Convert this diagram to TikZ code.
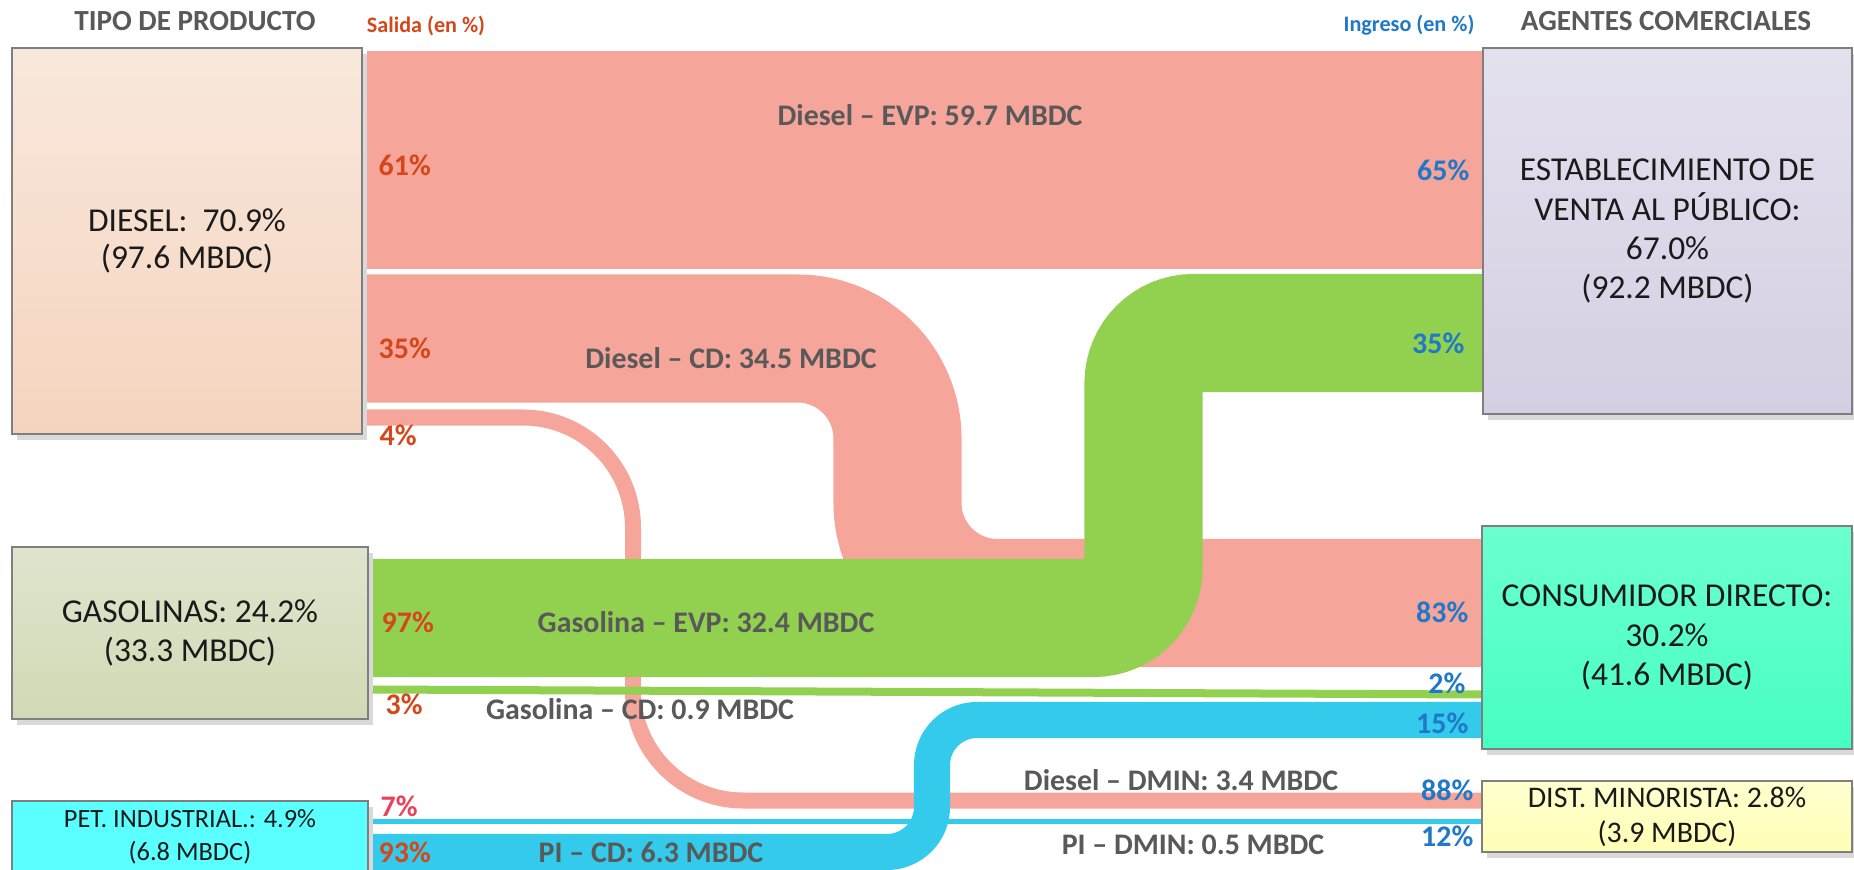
\documentclass[tikz,border=0pt]{standalone}
\usepackage{fontspec}
\setmainfont{Carlito}
\usetikzlibrary{shadows}
\definecolor{pinkflow}{HTML}{F6A59B}
\definecolor{greenflow}{HTML}{92D050}
\definecolor{blueflow}{HTML}{33CAEC}
\definecolor{outred}{HTML}{D5471A}
\definecolor{outredb}{HTML}{E8435A}
\definecolor{inblue}{HTML}{1F78C8}
\definecolor{lblgray}{HTML}{595959}
\definecolor{boxborder}{HTML}{7F7F7F}
\definecolor{boxtext}{HTML}{1A1A1A}
\begin{document}
\begin{tikzpicture}[x=0.01cm,y=-0.01cm,
  box/.style={draw=boxborder, line width=0.6pt, inner sep=0pt, align=center, text=boxtext,
     drop shadow={shadow xshift=0.05cm, shadow yshift=-0.06cm, opacity=0.15, fill=black}},
  pctout/.style={font=\fontsize{8.5}{10}\selectfont\bfseries, text=outred, anchor=west, inner sep=0pt},
  pctin/.style={font=\fontsize{8.5}{10}\selectfont\bfseries, text=inblue, anchor=east, inner sep=0pt},
  flowlbl/.style={font=\fontsize{8.5}{10}\selectfont\bfseries, text=lblgray, inner sep=0pt},
  hdr/.style={font=\fontsize{8.3}{10}\selectfont\bfseries, text=lblgray, inner sep=0pt},
  subhdr/.style={font=\fontsize{6.3}{8}\selectfont\bfseries, inner sep=0pt},
  pinkf/.style={draw=pinkflow},
  greenf/.style={draw=greenflow},
  bluef/.style={draw=blueflow}]
\useasboundingbox (0,0) rectangle (1854,870);
\clip (0,0) rectangle (1854,870);

% flow end points
\coordinate (dEVPa) at (367,159.7);  \coordinate (dEVPb) at (1483,159.7);
\coordinate (dCDa)  at (367,338.5);  \coordinate (dCDb)  at (1483,603);
\coordinate (dDMa)  at (367,417.5);  \coordinate (dDMb)  at (1483,800.5);
\coordinate (gEVPa) at (373,618);    \coordinate (gEVPb) at (1483,333);
\coordinate (gCDa)  at (373,689.5);  \coordinate (gCDb)  at (1483,694.5);
\coordinate (pDMa)  at (373,821);    \coordinate (pDMb)  at (1483,821);
\coordinate (pCDa)  at (373,852);    \coordinate (pCDb)  at (1483,720);

% flows
\draw[pinkf, line width=2.18cm] (dEVPa) -- (dEVPb);
\draw[pinkf, line width=1.28cm, rounded corners=1cm] (dCDa) -- (897.5,338.5) -- (897.5,603) -- (dCDb);
\draw[pinkf, line width=0.16cm, rounded corners=1.1cm] (dDMa) -- (633,417.5) -- (633,800.5) -- (dDMb);
\draw[greenf, line width=1.18cm, rounded corners=0.5cm] (gEVPa) -- (1143.5,618) -- (1143.5,333) -- (gEVPb);
\draw[greenf, line width=0.08cm] (gCDa) -- (gCDb);
\draw[bluef, line width=0.05cm] (pDMa) -- (pDMb);
\draw[bluef, line width=0.36cm, rounded corners=0.45cm] (pCDa) -- (932,852) -- (932,720) -- (pCDb);

% boxes
\node[box, top color={rgb,255:red,249;green,232;blue,221}, bottom color={rgb,255:red,245;green,212;blue,190},
  minimum width=3.5cm, minimum height=3.86cm, font=\fontsize{9.5}{10.6}\selectfont] (diesel) at (187,241)
  {DIESEL:~ 70.9\%\\(97.6 MBDC)};
\node[box, top color={rgb,255:red,223;green,229;blue,205}, bottom color={rgb,255:red,210;green,217;blue,181},
  minimum width=3.56cm, minimum height=1.72cm, font=\fontsize{9.5}{11.3}\selectfont] (gas) at (190,633)
  {GASOLINAS: 24.2\%\\(33.3 MBDC)};
\node[box, fill={rgb,255:red,90;green,255;blue,255},
  minimum width=3.56cm, minimum height=0.71cm, font=\fontsize{7.5}{9.4}\selectfont] (pi) at (190,836.5)
  {PET. INDUSTRIAL.: 4.9\%\\(6.8 MBDC)};
\node[box, top color={rgb,255:red,228;green,225;blue,239}, bottom color={rgb,255:red,214;green,206;blue,226},
  minimum width=3.69cm, minimum height=3.66cm, font=\fontsize{9.5}{11.1}\selectfont] (evp) at (1667.5,231)
  {ESTABLECIMIENTO DE\\VENTA AL PÚBLICO:\\67.0\%\\(92.2 MBDC)};
\node[box, top color={rgb,255:red,107;green,255;blue,208}, bottom color={rgb,255:red,71;green,255;blue,194},
  minimum width=3.7cm, minimum height=2.23cm, font=\fontsize{9.5}{11.2}\selectfont] (cd) at (1667,637.5)
  {CONSUMIDOR DIRECTO:\\30.2\%\\(41.6 MBDC)};
\node[box, top color={rgb,255:red,255;green,255;blue,208}, bottom color={rgb,255:red,255;green,255;blue,181},
  minimum width=3.7cm, minimum height=0.71cm, font=\fontsize{8.5}{10}\selectfont] (dmin) at (1667,816.5)
  {DIST. MINORISTA: 2.8\%\\(3.9 MBDC)};

% headers
\node[hdr] (hdrL) at (195,21) {TIPO DE PRODUCTO};
\node[hdr] (hdrR) at (1666,21) {AGENTES COMERCIALES};
\node[subhdr, text=outred] (salida) at (426,26) {Salida (en \%)};
\node[subhdr, text=inblue] (ingreso) at (1409,25) {Ingreso (en \%)};

% outgoing percentages
\node[pctout] (o61) at (378,165) {61\%};
\node[pctout] (o35) at (378,348) {35\%};
\node[pctout] (o4)  at (379,435) {4\%};
\node[pctout] (o97) at (381,622) {97\%};
\node[pctout] (o3)  at (385,704) {3\%};
\node[pctout, text=outredb] (o7) at (380,806) {7\%};
\node[pctout] (o93) at (378,852) {93\%};

% incoming percentages
\node[pctin] (i65) at (1470,170) {65\%};
\node[pctin] (i35) at (1465,343) {35\%};
\node[pctin] (i83) at (1469,612) {83\%};
\node[pctin] (i2)  at (1466,683) {2\%};
\node[pctin] (i15) at (1469,723) {15\%};
\node[pctin] (i88) at (1474,790) {88\%};
\node[pctin] (i12) at (1474,836) {12\%};

% flow labels
\node[flowlbl] (lDEVP) at (930,115) {Diesel -- EVP: 59.7 MBDC};
\node[flowlbl] (lDCD)  at (731,358) {Diesel -- CD: 34.5 MBDC};
\node[flowlbl] (lGEVP) at (706,622) {Gasolina -- EVP: 32.4 MBDC};
\node[flowlbl] (lGCD)  at (640,709) {Gasolina -- CD: 0.9 MBDC};
\node[flowlbl] (lDDM)  at (1181,780) {Diesel -- DMIN: 3.4 MBDC};
\node[flowlbl] (lPDM)  at (1193,845) {PI -- DMIN: 0.5 MBDC};
\node[flowlbl] (lPCD)  at (651,852) {PI -- CD: 6.3 MBDC};
\end{tikzpicture}
\end{document}
